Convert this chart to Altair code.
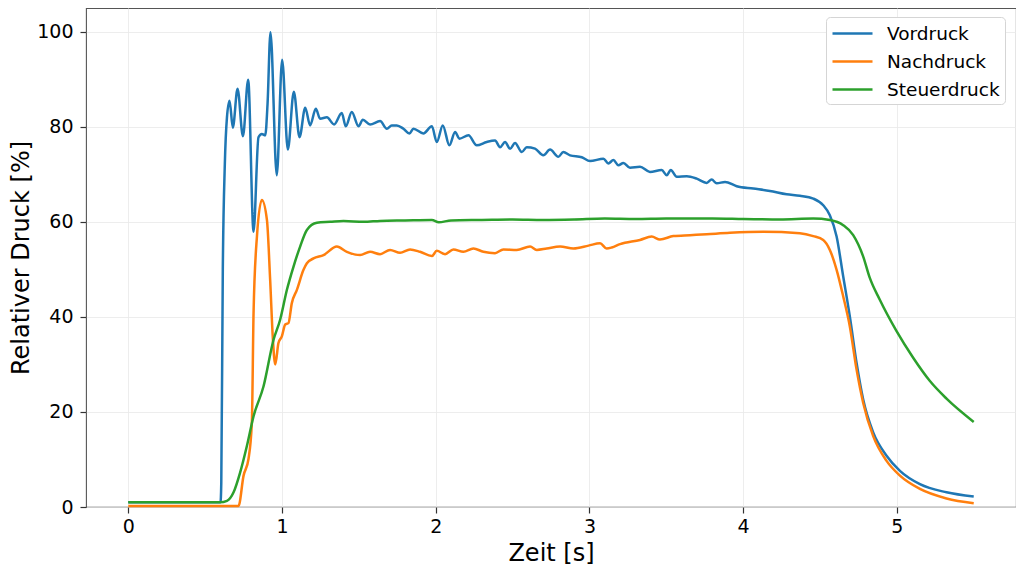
import altair as alt
import pandas as pd

# Vordruck (blue)
t_vor = [0, 0.6, 0.605, 0.615, 0.628, 0.642, 0.659, 0.68, 0.711, 0.746, 0.780, 0.815,
         0.847, 0.869, 0.891, 0.906, 0.925, 0.966, 1.001, 1.038, 1.077, 1.114, 1.151,
         1.183, 1.220, 1.248, 1.292, 1.339, 1.389, 1.415, 1.454, 1.498, 1.526, 1.573,
         1.638, 1.682, 1.714, 1.747, 1.790, 1.829, 1.855, 1.920, 1.975, 2.007, 2.046,
         2.089, 2.126, 2.154, 2.213, 2.267, 2.332, 2.386, 2.419, 2.451, 2.484, 2.516,
         2.560, 2.592, 2.646, 2.700, 2.744, 2.798, 2.830, 2.874, 2.950, 3.004, 3.091,
         3.123, 3.156, 3.188, 3.221, 3.264, 3.329, 3.394, 3.470, 3.503, 3.529, 3.568,
         3.633, 3.698, 3.763, 3.795, 3.828, 3.882, 3.958, 4.066, 4.174, 4.283, 4.369,
         4.456, 4.521, 4.564, 4.608, 4.651, 4.694, 4.738, 4.781, 4.846, 4.933, 5.020,
         5.150, 5.323, 5.5]
v_vor = [1.0, 1.0, 5, 50, 72, 82, 85.5, 79.8, 88.0, 78.0, 89.9, 57.9,
         77.8, 78.5, 78.2, 84.8, 99.9, 69.8, 94.1, 75.2, 87.4, 77.8, 84.0,
         80.3, 83.8, 81.7, 82.0, 80.5, 82.9, 80.1, 83.1, 80.1, 81.5, 80.5,
         81.2, 79.6, 80.3, 80.3, 79.6, 78.6, 79.6, 78.6, 80.1, 76.8, 80.3,
         76.1, 78.9, 77.5, 78.2, 76.1, 76.8, 77.1, 75.7, 76.8, 75.4, 76.6,
         74.7, 75.7, 75.4, 74.0, 75.2, 73.7, 74.7, 74.0, 73.6, 72.8, 73.3,
         72.3, 73.0, 71.9, 72.4, 71.4, 71.6, 70.5, 70.9, 69.8, 70.9, 69.5,
         69.6, 69.1, 68.2, 68.9, 68.1, 68.4, 67.5, 67.0, 66.5, 65.8, 65.5,
         64.9, 63.5, 61.4, 56.9, 48.5, 40.1, 30.3, 22.6, 15.7, 10.8, 7.6,
         4.8, 3.1, 2.2]

# Nachdruck (orange)
t_nach = [0, 0.717, 0.750, 0.782, 0.804, 0.815, 0.837, 0.869, 0.902, 0.923, 0.941,
          0.956, 0.977, 0.999, 1.021, 1.042, 1.064, 1.097, 1.140, 1.162, 1.205, 1.270,
          1.357, 1.422, 1.508, 1.573, 1.638, 1.703, 1.768, 1.833, 1.898, 1.975, 2.007,
          2.061, 2.115, 2.180, 2.245, 2.310, 2.386, 2.440, 2.527, 2.614, 2.657, 2.722,
          2.809, 2.896, 2.994, 3.069, 3.112, 3.145, 3.199, 3.329, 3.405, 3.459, 3.546,
          3.654, 3.763, 3.914, 4.131, 4.369, 4.456, 4.521, 4.564, 4.608, 4.651, 4.694,
          4.738, 4.781, 4.846, 4.933, 5.020, 5.150, 5.323, 5.5]
v_nach = [0.2, 0.2, 6.6, 10.1, 17.8, 40.8, 56.9, 64.6, 60.4, 47.8, 35.2,
          30.0, 34.5, 35.9, 38.4, 38.7, 42.9, 45.7, 49.9, 51.3, 52.3, 53.0,
          54.8, 53.7, 53.0, 53.7, 53.2, 54.1, 53.5, 54.2, 53.7, 52.8, 53.9,
          53.2, 54.2, 53.7, 54.4, 53.7, 53.4, 54.2, 54.1, 54.8, 54.1, 54.4,
          54.8, 54.4, 55.0, 55.5, 54.4, 54.6, 55.3, 56.2, 56.9, 56.3, 57.0,
          57.2, 57.4, 57.7, 57.9, 57.6, 57.0, 56.2, 54.1, 49.9, 44.3, 38.0,
          28.9, 21.9, 14.9, 9.7, 6.6, 3.8, 1.8, 0.8]

# Steuerdruck (green)
t_steu = [0, 0.598, 0.642, 0.685, 0.728, 0.772, 0.815, 0.880, 0.945, 0.988, 1.032,
          1.075, 1.118, 1.162, 1.227, 1.313, 1.400, 1.530, 1.638, 1.8, 1.975, 2.02,
          2.1, 2.3, 2.5, 2.7, 2.9, 3.1, 3.3, 3.5, 3.8, 4.0, 4.239, 4.456, 4.564,
          4.651, 4.716, 4.781, 4.824, 4.889, 4.998, 5.106, 5.215, 5.323, 5.5]
v_steu = [1.0, 1.0, 1.3, 3.1, 7.3, 12.9, 19.1, 25.4, 35.2, 39.4, 45.7,
          50.6, 54.8, 58.3, 59.8, 60.0, 60.2, 60.0, 60.2, 60.3, 60.4, 59.9,
          60.3, 60.4, 60.5, 60.4, 60.5, 60.7, 60.6, 60.7, 60.7, 60.6, 60.5, 60.7, 60.4,
          59.3, 57.2, 52.7, 48.2, 43.6, 37.0, 31.4, 26.5, 22.8, 17.9]

series = ["Vordruck", "Nachdruck", "Steuerdruck"]
colors = ["#1f77b4", "#ff7f0e", "#2ca02c"]
x_ticks = [0, 1, 2, 3, 4, 5]
y_ticks = [0, 20, 40, 60, 80, 100]

frames = []
for name, ts, vs in zip(series, [t_vor, t_nach, t_steu], [v_vor, v_nach, v_steu]):
    frames.append(pd.DataFrame({"Zeit": ts, "Druck": vs, "Serie": name}))
df = pd.concat(frames, ignore_index=True)

FONT = "DejaVu Sans"

chart = alt.Chart(df).mark_line(strokeWidth=2.5, interpolate="monotone").encode(
    x=alt.X("Zeit:Q",
            scale=alt.Scale(domain=[-0.275, 5.775], nice=False, zero=False),
            axis=alt.Axis(title="Zeit [s]", values=x_ticks, format="d")),
    y=alt.Y("Druck:Q",
            scale=alt.Scale(domain=[0, 105], nice=False),
            axis=alt.Axis(title="Relativer Druck [%]", values=y_ticks, format="d")),
    color=alt.Color("Serie:N",
                    scale=alt.Scale(domain=series, range=colors),
                    sort=series,
                    legend=alt.Legend(orient="none", legendX=740, legendY=9,
                                      title=None,
                                      symbolType="M-1,0L3,0", symbolSize=400,
                                      symbolStrokeWidth=2.5,
                                      labelFontSize=18.5, labelFont=FONT,
                                      labelColor="black",
                                      labelOffset=33, rowPadding=7, padding=5,
                                      strokeColor="#d5d5d5", fillColor="white",
                                      cornerRadius=4)),
).properties(
    width=930,
    height=499,
    autosize=alt.AutoSizeParams(type="none"),
    padding={"left": 78, "top": 0, "right": 0, "bottom": 58},
).configure_view(
    stroke="#555555", strokeWidth=1.1
).configure_axis(
    grid=True, gridColor="#e8e8e8", gridWidth=0.8,
    domain=False,
    tickColor="#333333", tickSize=6, tickWidth=1.2,
    labelFont=FONT, labelFontSize=19, labelColor="black",
    titleFont=FONT, titleFontSize=24, titleColor="black", titleFontWeight="normal",
).configure_axisX(
    labelPadding=4, titlePadding=5
).configure_axisY(
    labelPadding=7, titlePadding=3
)

chart.save("out.html", embed_options={"renderer": "svg", "actions": False})
